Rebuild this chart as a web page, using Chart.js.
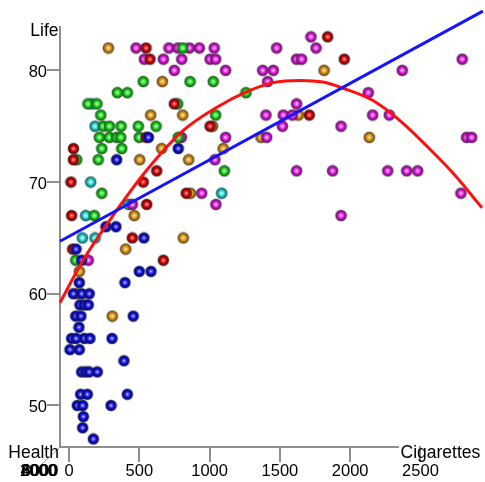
<!DOCTYPE html>
<html>
<head>
<meta charset="utf-8">
<script src="https://cdn.jsdelivr.net/npm/chart.js@4/dist/chart.umd.min.js"></script>
<style>
  html, body { margin: 0; padding: 0; background: #ffffff; }
  #wrap { width: 485px; height: 482px; }
</style>
</head>
<body>
<div id="wrap"><canvas id="c" width="485" height="482"></canvas></div>
<script>
// Cigarettes per person (x) against life expectancy (y), one pair of arrays per colour group
const blueCig  = [565, 777, 339, 263, 334, 533, 50, 89, 500, 583, 73, 398, 31, 90, 144, 78, 109, 137, 48, 85, 457, 71, 19, 50, 109, 149, 306, 7, 73, 391, 90, 119, 144, 201, 83, 130, 415, 59, 97, 299, 102, 97, 173];
const blueLife = [74, 73, 72, 66, 66, 65, 64, 63, 62, 62, 61, 61, 60, 60, 60, 59, 59, 59, 58, 58, 58, 57, 56, 56, 56, 56, 56, 55, 55, 54, 53, 53, 53, 53, 51, 51, 51, 50, 50, 50, 49, 48, 47];

const redCig  = [1840, 548, 576, 1958, 749, 1709, 1003, 548, 32, 31, 624, 14, 528, 834, 553, 19, 450, 26, 671];
const redLife = [83, 82, 81, 81, 77, 76, 75, 74, 73, 72, 71, 70, 70, 69, 68, 67, 65, 64, 63];

const greenCig  = [809, 528, 861, 1026, 344, 415, 1259, 135, 199, 773, 226, 1043, 244, 287, 370, 493, 619, 216, 287, 339, 368, 500, 777, 233, 375, 55, 208, 1105, 233, 180, 48];
const greenLife = [82, 79, 79, 79, 78, 78, 78, 77, 77, 77, 76, 76, 75, 75, 75, 75, 75, 74, 74, 74, 74, 74, 74, 73, 73, 72, 72, 71, 69, 67, 63];

const cyanCig  = [164, 185, 154, 1086, 423, 119, 95, 185];
const cyanLife = [77, 75, 70, 69, 68, 67, 65, 65];

const orangeCig  = [280, 1814, 664, 581, 809, 1631, 1021, 1366, 2136, 659, 1097, 503, 851, 864, 464, 813, 403, 73, 57, 308];
const orangeLife = [82, 80, 79, 76, 76, 76, 75, 74, 74, 73, 73, 72, 72, 69, 67, 65, 64, 62, 60, 58];

const magentaCig  = [1721, 477, 711, 775, 856, 927, 1033, 1477, 1757, 536, 671, 802, 1003, 1043, 1619, 1655, 2797, 749, 1114, 1378, 1453, 2370, 1413, 2129, 1619, 1401, 1524, 1588, 2160, 2278, 1518, 1935, 799, 1114, 1406, 2828, 2864, 1038, 1619, 1875, 2267, 2402, 2480, 944, 2788, 450, 1045, 1935, 137];
const magentaLife = [83, 82, 82, 82, 82, 82, 82, 82, 82, 81, 81, 81, 81, 81, 81, 81, 81, 80, 80, 80, 80, 80, 79, 78, 77, 76, 76, 76, 76, 76, 75, 75, 74, 74, 74, 74, 74, 72, 71, 71, 71, 71, 71, 69, 69, 68, 68, 67, 63];

// Fitted lines: straight (blue) and quadratic (red)
const lineFitCig  = [-64, 2944];
const lineFitLife = [64.7, 85.3];
const curveFitCig  = [-64, 100, 341, 555, 811, 1052, 1287, 1451, 1643, 1806, 1949, 2162, 2354, 2546, 2731, 2937];
const curveFitLife = [59.2, 63.0, 67.5, 71.1, 74.6, 76.7, 78.2, 78.9, 79.1, 78.95, 78.4, 77.3, 75.5, 73.2, 70.8, 67.7];

// Axis ticks
const cigTicks    = [0, 500, 1000, 1500, 2000, 2500];
const lifeTicks   = [50, 60, 70, 80];
const healthTicks = ['2000', '4000', '6000', '8000'];

const FONT = 'Liberation Sans, Arial, sans-serif';
const AXIS_GREY = '#8e8e8e';

// Shaded sphere sprite used as the point marker
function makeBall(light, base, dark) {
  const c = document.createElement('canvas');
  c.width = 13; c.height = 13;
  const g = c.getContext('2d');
  const cx = 6.5, cy = 6.5, r = 5.5;
  const grad = g.createRadialGradient(cx, cy, 0, cx, cy, r);
  grad.addColorStop(0, '#ffffff');
  grad.addColorStop(0.14, light);
  grad.addColorStop(0.55, base);
  grad.addColorStop(1, dark);
  g.fillStyle = grad;
  g.beginPath();
  g.arc(cx, cy, r, 0, Math.PI * 2);
  g.fill();
  g.strokeStyle = 'rgba(70,70,70,0.55)';
  g.lineWidth = 1;
  g.stroke();
  return c;
}

const balls = {
  blue:    makeBall('#7a7aff', '#0b0bd0', '#000058'),
  red:     makeBall('#ff6a6a', '#c80000', '#480000'),
  green:   makeBall('#9aff9a', '#14c814', '#005c00'),
  cyan:    makeBall('#b0ffff', '#1ccaca', '#005a5a'),
  orange:  makeBall('#ffd58a', '#d08c10', '#6a3c00'),
  magenta: makeBall('#ff9cff', '#d214d2', '#5c005c')
};

function pairs(xs, ys) { return xs.map((x, i) => ({ x: x, y: ys[i] })); }

function pointSet(xs, ys, ball) {
  return {
    data: pairs(xs, ys),
    pointStyle: ball,
    pointRadius: 6,
    showLine: false,
    clip: false
  };
}

// Axis titles, the collapsed depth axis and the white plate under "Cigarettes"
const decorations = {
  id: 'decorations',
  afterDraw(chart) {
    const ctx = chart.ctx;
    const xs = chart.scales.x;
    const area = chart.chartArea;
    ctx.save();

    // depth (Health) axis seen end-on
    ctx.strokeStyle = AXIS_GREY;
    ctx.lineWidth = 1;
    ctx.beginPath();
    ctx.moveTo(area.left, area.bottom);
    ctx.lineTo(area.left - 18, area.bottom + 17);
    ctx.stroke();

    // plate behind the x title, then the 2500 tick again
    ctx.fillStyle = '#ffffff';
    ctx.fillRect(399, area.bottom - 3, 86, 6);
    const t = Math.round(xs.getPixelForValue(2500));
    ctx.strokeStyle = AXIS_GREY;
    ctx.lineWidth = 2;
    ctx.beginPath();
    ctx.moveTo(t, area.bottom - 1);
    ctx.lineTo(t, area.bottom + 15);
    ctx.stroke();

    ctx.fillStyle = '#000000';
    ctx.font = '17.5px ' + FONT;
    ctx.textBaseline = 'alphabetic';
    ctx.textAlign = 'right';
    ctx.fillText('Life', 58.5, 35.7);
    ctx.textAlign = 'left';
    ctx.fillText('Health', 8.3, 457.7);
    ctx.fillText('Cigarettes', 400.5, 457.7);

    // Health tick labels, all projected onto nearly the same spot
    ctx.font = '16.5px ' + FONT;
    ctx.textAlign = 'right';
    healthTicks.forEach((s, i) => ctx.fillText(s, 56.6 + i * 0.6, 475.8));

    ctx.restore();
  }
};

new Chart(document.getElementById('c'), {
  type: 'scatter',
  data: {
    datasets: [
      {
        data: pairs(lineFitCig, lineFitLife),
        showLine: true, borderColor: '#1414ff', borderWidth: 3,
        pointRadius: 0, tension: 0, clip: false
      },
      {
        data: pairs(curveFitCig, curveFitLife),
        showLine: true, borderColor: '#ff1010', borderWidth: 3,
        pointRadius: 0, cubicInterpolationMode: 'monotone', clip: false
      },
      pointSet(blueCig, blueLife, balls.blue),
      pointSet(redCig, redLife, balls.red),
      pointSet(greenCig, greenLife, balls.green),
      pointSet(magentaCig, magentaLife, balls.magenta),
      pointSet(cyanCig, cyanLife, balls.cyan),
      pointSet(orangeCig, orangeLife, balls.orange)
    ]
  },
  options: {
    responsive: false,
    animation: false,
    devicePixelRatio: 1,
    events: [],
    layout: { autoPadding: false, padding: { top: 27, right: 0, bottom: 0, left: 0 } },
    plugins: { legend: { display: false }, tooltip: { enabled: false } },
    scales: {
      x: {
        type: 'linear',
        min: -64, max: 2959,
        afterBuildTicks: s => { s.ticks = cigTicks.map(v => ({ value: v })); },
        afterFit: s => { s.height = 35; },
        grid: { drawOnChartArea: false, drawTicks: true, tickLength: 15, color: AXIS_GREY, lineWidth: 2 },
        border: { display: true, color: AXIS_GREY, width: 2 },
        ticks: {
          color: '#000000', font: { family: FONT, size: 16.5 }, padding: 0,
          maxRotation: 0, autoSkip: false, callback: v => String(v)
        }
      },
      y: {
        type: 'linear',
        min: 46.28, max: 83.88,
        afterBuildTicks: s => { s.ticks = lifeTicks.map(v => ({ value: v })); },
        afterFit: s => { s.width = 60; },
        grid: { drawOnChartArea: false, drawTicks: true, tickLength: 13, color: AXIS_GREY, lineWidth: 2 },
        border: { display: true, color: AXIS_GREY, width: 2 },
        ticks: {
          color: '#000000', font: { family: FONT, size: 16.5 }, padding: 0,
          labelOffset: 2, autoSkip: false, callback: v => String(v)
        }
      }
    }
  },
  plugins: [decorations]
});
</script>
</body>
</html>
